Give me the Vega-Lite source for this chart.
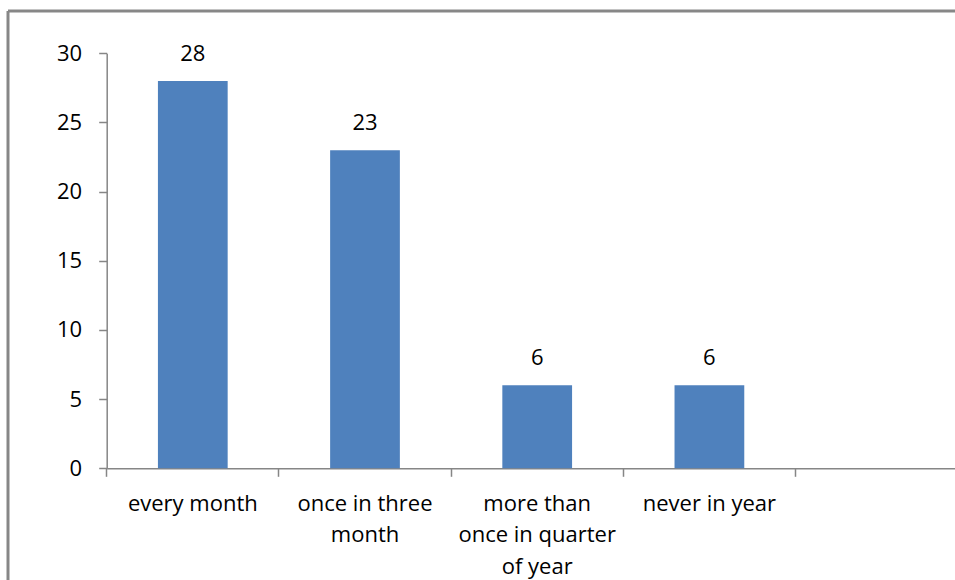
{
  "$schema": "https://vega.github.io/schema/vega-lite/v6.json",
  "autosize": {"type": "none"},
  "padding": {"left": 8, "top": 11, "right": 0, "bottom": 0},
  "width": 947,
  "height": 569,
  "background": "white",
  "config": {
    "view": {"stroke": "#878787", "strokeWidth": 3, "strokeDash": [947, 1516, 569, 0]},
    "font": "Open Sans"
  },
  "data": {
    "values": [
      {"category": "every month", "value": 28},
      {"category": "once in three month", "value": 23},
      {"category": "more than once in quarter of year", "value": 6},
      {"category": "never in year", "value": 6}
    ]
  },
  "encoding": {
    "x": {
      "field": "category",
      "type": "nominal",
      "sort": null,
      "scale": {
        "domain": ["every month", "once in three month", "more than once in quarter of year", "never in year", ""],
        "range": [98.7, 959.7],
        "paddingInner": 0,
        "paddingOuter": 0
      },
      "axis": {
        "title": null,
        "orient": "bottom",
        "offset": -111.7,
        "bandPosition": 0,
        "labelAngle": 0,
        "domainColor": "#868686",
        "domainWidth": 1.5,
        "tickColor": "#868686",
        "tickWidth": 1.5,
        "tickSize": 8,
        "labelFont": "Open Sans",
        "labelFontSize": 22,
        "labelColor": "#000000",
        "labelPadding": 17,
        "labelLineHeight": 31.5,
        "labelLimit": 0,
        "labelExpr": "datum.value == 'once in three month' ? ['once in three', 'month'] : datum.value == 'more than once in quarter of year' ? ['more than', 'once in quarter', 'of year'] : datum.value"
      }
    },
    "y": {
      "field": "value",
      "type": "quantitative",
      "scale": {"domain": [0, 30], "range": [457.3, 42.3], "nice": false, "zero": true},
      "axis": {
        "title": null,
        "orient": "left",
        "offset": -98.7,
        "values": [0, 5, 10, 15, 20, 25, 30],
        "grid": false,
        "domainColor": "#868686",
        "domainWidth": 1.5,
        "tickColor": "#868686",
        "tickWidth": 1.5,
        "tickSize": 8,
        "labelFont": "Open Sans",
        "labelFontSize": 22,
        "labelColor": "#000000",
        "labelPadding": 17
      }
    }
  },
  "layer": [
    {
      "mark": {"type": "bar", "color": "#4F81BD", "width": {"band": 0.405}}
    },
    {
      "mark": {"type": "text", "baseline": "alphabetic", "dy": -20, "fontSize": 22, "font": "Open Sans", "color": "#000000"},
      "encoding": {"text": {"field": "value", "type": "quantitative"}}
    }
  ]
}
